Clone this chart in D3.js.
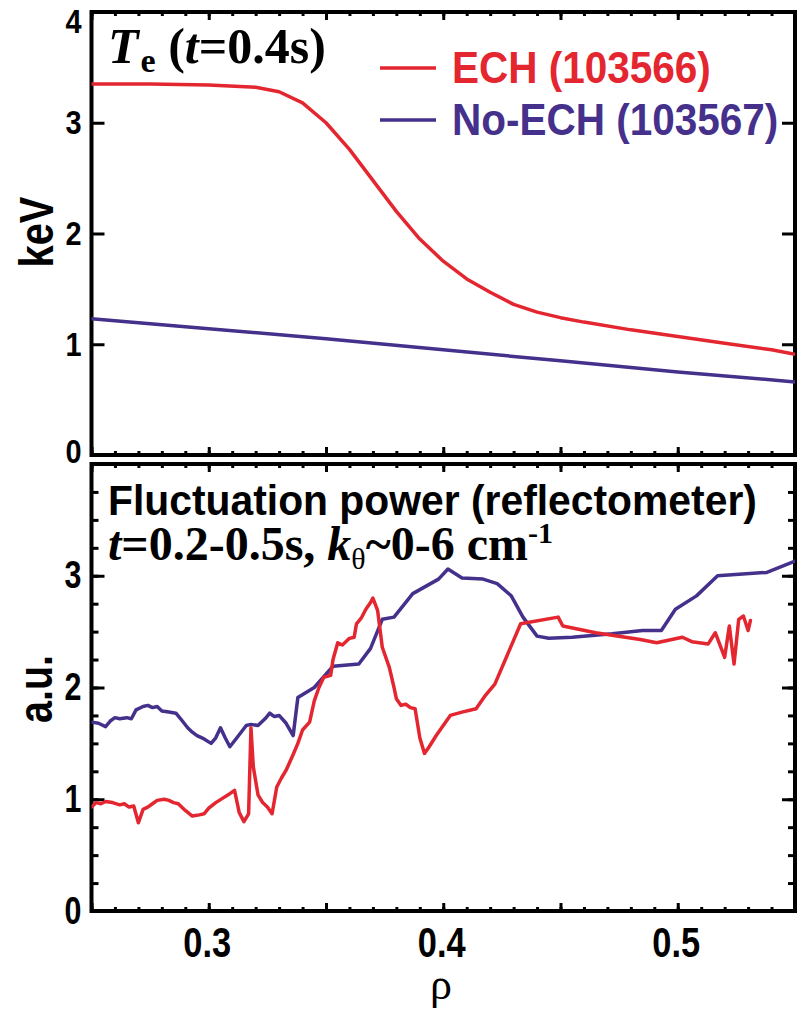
<!DOCTYPE html>
<html><head><meta charset="utf-8">
<script src="https://cdn.jsdelivr.net/npm/d3@7"></script>
<style>html,body{margin:0;padding:0;background:#fff;}svg{display:block;}</style>
</head><body>
<svg id="chart" width="797" height="1011"></svg>
<script>
// ---------- data ----------
const teRhoECH = [0.25,0.275,0.30,0.32,0.33,0.34,0.35,0.36,0.37,0.38,0.39,0.40,0.41,0.42,0.43,0.44,0.45,0.46,0.48,0.50,0.52,0.54,0.55];
const teECH    = [3.35,3.35,3.34,3.32,3.28,3.18,3.00,2.76,2.48,2.20,1.95,1.75,1.59,1.47,1.36,1.29,1.24,1.20,1.13,1.07,1.01,0.95,0.91];
const teRhoNo  = [0.25,0.30,0.35,0.40,0.45,0.50,0.55];
const teNo     = [1.23,1.14,1.05,0.95,0.85,0.75,0.66];

const fpRhoNo = [
  0.250,0.253,0.256,0.258,0.260,0.262,0.265,0.267,0.269,0.272,
  0.274,0.276,0.278,0.280,0.283,0.286,0.288,0.291,0.293,0.295,
  0.298,0.301,0.303,0.305,0.307,0.309,0.312,0.316,0.318,0.321,
  0.324,0.326,0.328,0.330,0.333,0.336,0.338,0.345,0.353,0.364,
  0.369,0.374,0.379,0.387,0.398,0.402,0.408,0.417,0.423,0.429,
  0.434,0.440,0.445,0.455,0.472,0.485,0.493,0.499,0.508,0.517,
  0.538,0.550];
const fpNo = [
  1.69,1.68,1.65,1.70,1.73,1.72,1.73,1.72,1.80,1.83,
  1.84,1.82,1.83,1.79,1.78,1.77,1.72,1.64,1.60,1.57,
  1.54,1.50,1.55,1.64,1.55,1.47,1.55,1.66,1.67,1.66,
  1.72,1.77,1.74,1.75,1.68,1.57,1.91,2.00,2.19,2.21,
  2.35,2.61,2.63,2.84,2.97,3.06,2.98,2.97,2.93,2.82,
  2.63,2.46,2.44,2.45,2.48,2.51,2.51,2.70,2.82,3.00,
  3.03,3.13];

const fpRhoECH = [
  0.250,0.252,0.254,0.256,0.259,0.262,0.264,0.266,0.268,0.270,
  0.272,0.274,0.276,0.278,0.281,0.283,0.285,0.287,0.290,0.293,
  0.296,0.298,0.300,0.303,0.306,0.309,0.311,0.313,0.315,0.317,
  0.318,0.319,0.321,0.323,0.325,0.327,0.329,0.331,0.333,0.336,
  0.338,0.340,0.343,0.345,0.347,0.349,0.352,0.353,0.355,0.357,
  0.360,0.362,0.363,0.365,0.367,0.369,0.370,0.372,0.374,0.377,
  0.379,0.380,0.382,0.384,0.386,0.388,0.390,0.392,0.394,0.397,
  0.400,0.403,0.408,0.414,0.418,0.422,0.433,0.449,0.451,0.465,
  0.484,0.491,0.502,0.506,0.513,0.516,0.520,0.522,0.524,0.526,
  0.528,0.530,0.531];
const fpECH = [
  0.93,0.97,0.96,0.98,0.97,0.95,0.96,0.93,0.94,0.79,
  0.91,0.93,0.96,0.99,1.00,0.99,0.97,0.96,0.90,0.85,
  0.86,0.87,0.92,0.97,1.01,1.05,1.08,0.88,0.80,0.87,
  1.64,1.29,1.04,0.97,0.93,0.87,1.11,1.19,1.26,1.40,
  1.50,1.62,1.69,1.88,2.00,2.09,2.11,2.25,2.40,2.38,
  2.44,2.45,2.57,2.62,2.70,2.76,2.80,2.69,2.36,2.18,
  2.00,1.90,1.84,1.85,1.82,1.81,1.55,1.41,1.47,1.57,
  1.66,1.75,1.78,1.81,1.93,2.03,2.57,2.63,2.55,2.49,
  2.43,2.40,2.45,2.41,2.39,2.49,2.27,2.55,2.21,2.61,
  2.64,2.51,2.60];

const xMajor = [0.25,0.30,0.35,0.40,0.45,0.50,0.55];
const xMinor = d3.range(25,56).map(d=>d/100);
const xLabels = [0.3,0.4,0.5];
const yMajor = [0,1,2,3,4];
const yLabelsTop = [0,1,2,3,4];
const yLabelsBottom = [0,1,2,3];
const yMinorBottom = d3.range(0,17).map(d=>d/4);
const legendNames = ["ECH (103566)","No-ECH (103567)"];

// ---------- setup ----------
const RED = "#e3262f", PURPLE = "#45308c";
const SANS = "'Liberation Sans', Arial, Helvetica, sans-serif";
const SERIF = "'Liberation Serif', 'Times New Roman', serif";
const svg = d3.select("#chart");
const X0 = 91.5, X1 = 795;
const x = d3.scaleLinear().domain([0.25,0.55]).range([X0,X1]);
const yTop = d3.scaleLinear().domain([0,4]).range([455,12]);
const yBot = d3.scaleLinear().domain([0,4]).range([911,464]);

function stxt(g, px, py, str, o) {
  let tr = `translate(${px},${py})`;
  if (o.rot) tr += ` rotate(${o.rot})`;
  tr += ` scale(${o.sx||1},${o.sy||1})`;
  return g.append("text").attr("transform", tr)
    .attr("text-anchor", o.anchor||"start")
    .attr("font-family", o.family||SANS).attr("font-weight", o.weight||"bold")
    .attr("font-size", o.size).attr("fill", o.fill||"#000").text(str);
}

function panel(y, id, opts) {
  const g = svg.append("g");
  const [ya, yb] = y.range();
  const top = Math.min(ya,yb), bot = Math.max(ya,yb);
  svg.append("clipPath").attr("id", id).append("rect")
    .attr("x", X0).attr("y", top).attr("width", X1-X0).attr("height", bot-top);

  const styleAxis = sel => {
    sel.select(".domain").remove();
    sel.selectAll(".tick line").attr("stroke","#000").attr("stroke-width",3);
  };
  [["b",bot],["t",top]].forEach(([side,py]) => {
    const mk = side==="b" ? d3.axisBottom : d3.axisTop;
    g.append("g").attr("transform",`translate(0,${py})`)
      .call(mk(x).tickValues(xMinor).tickSize(-4).tickFormat("")).call(styleAxis);
    g.append("g").attr("transform",`translate(0,${py})`)
      .call(mk(x).tickValues(xMajor).tickSize(-8).tickFormat("")).call(styleAxis);
  });
  if (opts.minorY) {
    g.append("g").attr("transform",`translate(${X0},0)`)
      .call(d3.axisLeft(y).tickValues(opts.minorY).tickSize(-7).tickFormat("")).call(styleAxis);
    g.append("g").attr("transform",`translate(${X1},0)`)
      .call(d3.axisRight(y).tickValues(opts.minorY).tickSize(-7).tickFormat("")).call(styleAxis);
  }
  g.append("g").attr("transform",`translate(${X1},0)`)
    .call(d3.axisRight(y).tickValues(yMajor).tickSize(-13).tickFormat("")).call(styleAxis);
  g.append("g").attr("transform",`translate(${X0},0)`)
    .call(d3.axisLeft(y).tickValues(yMajor).tickSize(-13).tickFormat("")).call(styleAxis);
  const ly = g.append("g").attr("transform",`translate(${X0},0)`)
    .call(d3.axisLeft(y).tickValues(opts.labels).tickSize(0).tickPadding(10).tickFormat(d3.format("d")))
    .attr("font-family", SANS).attr("font-size", opts.labelSize).attr("font-weight","bold");
  ly.select(".domain").remove();
  ly.selectAll(".tick text").each(function(d){
    const s = d3.select(this);
    const tx = +s.attr("x");
    const off = (opts.labelOffset && opts.labelOffset[d]) || 0;
    s.attr("x", null).attr("fill","#000")
     .attr("transform", `translate(${tx},${off}) scale(${opts.labelSx},1)`);
  });
  g.append("rect").attr("x",X0).attr("y",top).attr("width",X1-X0).attr("height",bot-top)
    .attr("fill","none").attr("stroke","#000").attr("stroke-width",4);
  return {g, top, bot};
}

panel(yTop, "clipTop", {labels:yLabelsTop, labelSize:34, labelSx:0.85, labelOffset:{4:10, 0:-3}});
panel(yBot, "clipBot", {labels:yLabelsBottom, labelSize:38, labelSx:0.8, minorY:yMinorBottom});

function drawLine(rhos, vals, y, color, clip) {
  const line = d3.line().x(d=>x(d[0])).y(d=>y(d[1]));
  svg.append("path").datum(d3.zip(rhos, vals))
    .attr("clip-path", `url(#${clip})`)
    .attr("d", line).attr("fill","none").attr("stroke",color)
    .attr("stroke-width",3.5).attr("stroke-linejoin","round").attr("stroke-linecap","round");
}
drawLine(teRhoNo, teNo, yTop, PURPLE, "clipTop");
drawLine(teRhoECH, teECH, yTop, RED, "clipTop");
drawLine(fpRhoNo, fpNo, yBot, PURPLE, "clipBot");
drawLine(fpRhoECH, fpECH, yBot, RED, "clipBot");

// x tick labels (bottom panel)
const xl = svg.append("g").attr("transform",`translate(0,911)`)
  .call(d3.axisBottom(x).tickValues(xLabels).tickSize(0).tickPadding(0).tickFormat(d3.format(".1f")))
  .attr("font-family", SANS).attr("font-size", 42).attr("font-weight","bold");
xl.select(".domain").remove();
xl.selectAll(".tick text").attr("y", null).attr("dy", null).attr("fill","#000")
  .attr("transform","translate(-2,46) scale(0.82,1)");

// axis titles
stxt(svg, 441, 999, "ρ", {size:44, family:SERIF, weight:"normal", anchor:"middle"});
stxt(svg, 53, 232, "keV", {size:48, rot:-90, sx:0.83, anchor:"middle"});
stxt(svg, 52, 689, "a.u.", {size:48, rot:-90, sx:0.82, anchor:"middle"});

// top title T_e (t=0.4s)
const t1 = svg.append("text").attr("x",108).attr("y",63)
  .attr("font-family",SERIF).attr("font-weight","bold").attr("font-size",50).attr("fill","#000");
t1.append("tspan").attr("font-style","italic").text("T");
t1.append("tspan").attr("font-size",34).attr("dy",9).attr("dx",2).text("e");
t1.append("tspan").attr("dy",-9).text(" (");
t1.append("tspan").attr("font-style","italic").text("t");
t1.append("tspan").text("=0.4s)");

// legend
const legColors = [RED, PURPLE];
const legY = [68, 120];
legendNames.forEach((n,i) => {
  svg.append("line").attr("x1",380).attr("x2",436).attr("y1",legY[i]).attr("y2",legY[i])
    .attr("stroke",legColors[i]).attr("stroke-width",3.5);
  stxt(svg, 452, legY[i]+15, n, {size:45, sx:0.9, fill:legColors[i]});
});

// bottom titles
stxt(svg, 108, 515, "Fluctuation power (reflectometer)", {size:43, sx:0.95});
const t2 = svg.append("text").attr("x",108).attr("y",560)
  .attr("font-family",SERIF).attr("font-weight","bold").attr("font-size",48).attr("fill","#000");
t2.append("tspan").attr("font-style","italic").text("t");
t2.append("tspan").text("=0.2-0.5s, ");
t2.append("tspan").attr("font-style","italic").text("k");
t2.append("tspan").attr("font-size",30).attr("font-weight","normal").attr("dy",9).text("θ");
t2.append("tspan").attr("dy",-9).text("~0-6 cm");
t2.append("tspan").attr("font-size",30).attr("dy",-17).text("-1");
</script>
</body></html>
